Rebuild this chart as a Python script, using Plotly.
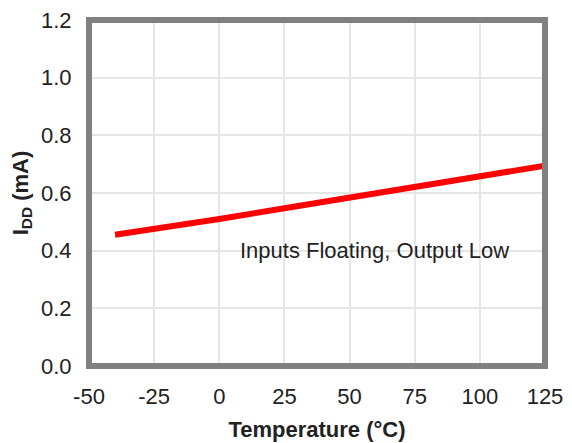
import plotly.graph_objects as go

temps = [-40, -25, 0, 25, 50, 75, 100, 125]
idd = [0.455, 0.475, 0.510, 0.547, 0.584, 0.621, 0.658, 0.695]
x_ticks = [-50, -25, 0, 25, 50, 75, 100, 125]
x_labels = ["-50", "-25", "0", "25", "50", "75", "100", "125"]
y_ticks = [0.0, 0.2, 0.4, 0.6, 0.8, 1.0, 1.2]
y_labels = ["0.0", "0.2", "0.4", "0.6", "0.8", "1.0", "1.2"]
note = "Inputs Floating, Output Low"

fig = go.Figure()
fig.add_trace(go.Scatter(x=temps, y=idd, mode="lines",
                         line=dict(color="#ff0000", width=6), showlegend=False))

font = dict(family="Liberation Sans, Arial, sans-serif", size=22, color="#222222")
fig.update_layout(
    width=572, height=443,
    margin=dict(l=89, r=27, t=20, b=77, autoexpand=False),
    paper_bgcolor="white", plot_bgcolor="white",
    font=font,
    xaxis=dict(range=[-50, 125], tickvals=x_ticks, ticktext=x_labels, showgrid=True,
               gridcolor="#e6e6e6", gridwidth=1.5, zeroline=False, showline=False,
               ticks="outside", ticklen=11, tickcolor="rgba(0,0,0,0)", automargin=False,
               title=dict(text="<b>Temperature (°C)</b>", standoff=13, font=dict(size=22)),
               tickfont=dict(size=22)),
    yaxis=dict(range=[0, 1.2], tickvals=y_ticks, ticktext=y_labels, showgrid=True,
               gridcolor="#e6e6e6", gridwidth=1.5, zeroline=False, showline=False,
               ticks="outside", ticklen=12, tickcolor="rgba(0,0,0,0)", automargin=False,
               title=dict(text="<b>I<sub>DD</sub> (mA)</b>", standoff=6, font=dict(size=22)),
               tickfont=dict(size=22)),
    shapes=[dict(type="rect", xref="paper", yref="paper", x0=0, x1=1, y0=0, y1=1,
                 line=dict(color="#808080", width=6), layer="above")],
    annotations=[dict(x=59.5, y=0.399, xref="x", yref="y", text=note, showarrow=False,
                      font=dict(size=22, color="#222222"))],
)

fig.write_html("out.html", config={"displayModeBar": False},
               post_script="document.body.style.margin='0';")
